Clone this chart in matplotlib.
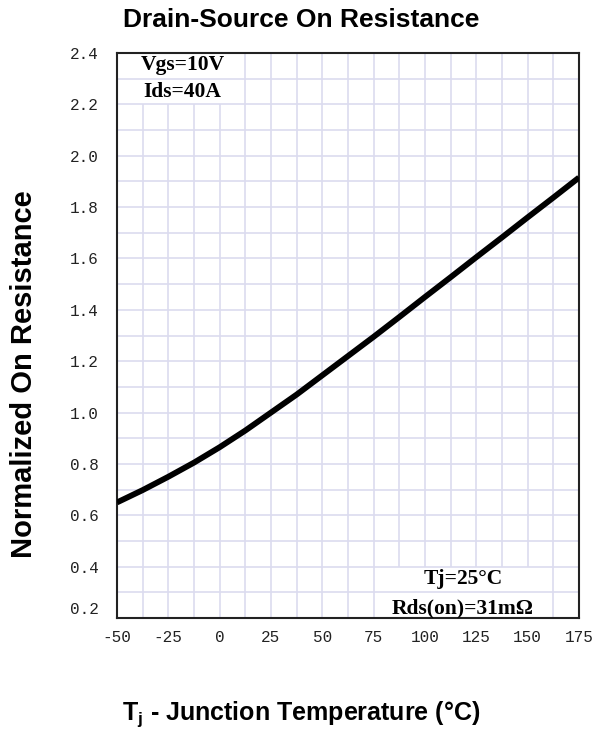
import numpy as np
import matplotlib
matplotlib.use("Agg")
import matplotlib.pyplot as plt
from matplotlib.ticker import MultipleLocator
from matplotlib.patches import Rectangle
from matplotlib.transforms import ScaledTranslation

# junction temperature (C) vs normalized Rds(on)
temps = [-50, -37.5, -25, -12.5, 0, 12.5, 25, 37.5, 50, 62.5, 75, 87.5,
         100, 112.5, 125, 137.5, 150, 162.5, 175]
r_norm = [0.65, 0.698, 0.75, 0.805, 0.865, 0.93, 1.0, 1.07, 1.145, 1.22, 1.295, 1.372,
          1.45, 1.527, 1.605, 1.682, 1.76, 1.837, 1.915]

x_ticks = [-50, -25, 0, 25, 50, 75, 100, 125, 150, 175]
y_ticks = [0.2, 0.4, 0.6, 0.8, 1.0, 1.2, 1.4, 1.6, 1.8, 2.0, 2.2, 2.4]

GRID = "#dcdcef"

plt.rcParams["mathtext.fontset"] = "custom"
plt.rcParams["mathtext.rm"] = "Liberation Sans:bold"
plt.rcParams["mathtext.it"] = "Liberation Sans:bold"

fig = plt.figure(figsize=(5.92, 7.49), dpi=100)
ax = fig.add_axes([0.1976, 0.1749, 0.7804, 0.7543])

ax.set_xlim(-50, 175)
ax.set_ylim(0.2, 2.4)
ax.set_xticks(x_ticks)
ax.set_yticks(y_ticks)
ax.set_xticklabels([str(t) for t in x_ticks])
ax.set_yticklabels(["%.1f" % v for v in y_ticks])
ax.xaxis.set_minor_locator(MultipleLocator(12.5))
ax.tick_params(which="both", length=0, labelcolor="#222222")
ax.tick_params(axis="x", pad=9)
ax.tick_params(axis="y", pad=13)
for lab in ax.get_xticklabels() + ax.get_yticklabels():
    lab.set_fontfamily("Liberation Mono")
    lab.set_fontsize(11.5)

# lowest y label sits a little above the bottom edge
low = ax.yaxis.get_major_ticks()[0].label1
low.set_transform(low.get_transform() + ScaledTranslation(0, 10 / 100, fig.dpi_scale_trans))

# vertical grid under the white label boxes, horizontal grid above them
ax.set_axisbelow(True)
ax.grid(which="both", axis="x", color=GRID, lw=1.2, zorder=0.5)
ax.hlines(np.arange(0.3, 2.4, 0.1), -50, 175, colors=GRID, lw=1.2, zorder=1.5)

ax.add_patch(Rectangle((-50, 2.2), 57, 0.2, facecolor="white", edgecolor="none", zorder=1))
ax.add_patch(Rectangle((83, 0.2), 75, 0.2, facecolor="white", edgecolor="none", zorder=1))

ax.plot(temps, r_norm, color="black", lw=4.2, solid_capstyle="butt",
        solid_joinstyle="round", zorder=3)

for s in ax.spines.values():
    s.set_linewidth(1.5)
    s.set_color("#222222")

lbl = dict(family="Liberation Serif", fontweight="bold", fontsize=15.5,
           ha="center", va="center", zorder=4)
ax.text(-18, 2.355, "Vgs=10V", **lbl)
ax.text(-18, 2.25, "Ids=40A", **lbl)
ax.text(118.5, 0.35, "Tj=25°C", **lbl)
ax.text(118.5, 0.237, "Rds(on)=31mΩ", **lbl)

fig.text(0.508, 0.973, "Drain-Source On Resistance", ha="center", va="center",
         family="Liberation Sans", fontweight="bold", fontsize=19)
fig.text(0.04, 0.5, "Normalized On Resistance", ha="center", va="center",
         rotation=90, family="Liberation Sans", fontweight="bold", fontsize=21)
fig.text(0.508, 0.047, r"T$_\mathrm{j}$ - Junction Temperature (°C)", ha="center",
         va="center", family="Liberation Sans", fontweight="bold", fontsize=18)

fig.savefig("out.png", dpi=100)
